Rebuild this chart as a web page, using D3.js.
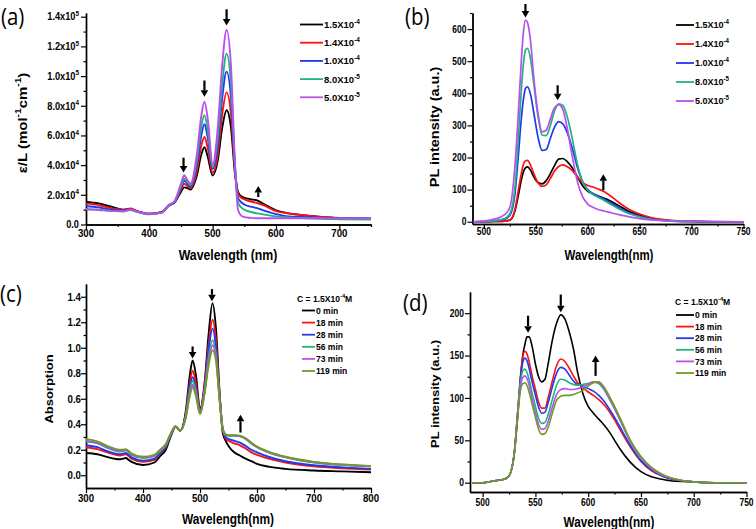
<!DOCTYPE html>
<html><head><meta charset="utf-8">
<script src="https://cdn.jsdelivr.net/npm/d3@7"></script>
<style>body{margin:0;background:#fff}svg{display:block}</style>
</head><body><svg id="chart" width="756" height="529"></svg>
<script>
// ---------------- DATA ----------------
// Panel (a): molar absorptivity, values in units of 1e4 mol^-1 cm^-1
const aWavelength = [300,320,340,360,370,380,400,420,430,440,450,455,460,465,475,482,487,492,500,508,515,522,529,535,540,545,550,560,570,580,600,620,650,690,750];
const aC15e4 = [1.52,1.42,1.2,1.0,1.05,0.9,0.72,0.85,1.25,1.5,2.2,2.5,2.45,2.35,3.3,4.7,5.2,4.6,3.3,4.3,6.5,7.7,6.5,3.5,2.2,1.9,1.8,1.7,1.62,1.4,0.95,0.75,0.6,0.45,0.4];
const aC14e4 = [1.42,1.3,1.1,1.0,1.08,0.92,0.72,0.85,1.25,1.5,2.35,2.75,2.6,2.45,3.6,5.3,5.9,5.2,3.5,4.7,7.4,8.9,7.4,3.8,2.1,1.8,1.7,1.55,1.45,1.3,0.9,0.75,0.6,0.47,null];
const aC10e4 = [1.25,1.15,1.0,0.95,1.0,0.88,0.7,0.82,1.25,1.5,2.5,2.95,2.75,2.55,4.0,6.0,6.75,5.9,3.75,5.3,8.5,10.3,8.5,4.0,1.8,1.5,1.35,1.2,1.1,0.95,0.7,0.55,0.5,0.42,0.4];
const aC80e5 = [1.05,1.0,0.92,0.88,0.98,0.85,0.68,0.8,1.25,1.55,2.6,3.1,2.85,2.65,4.3,6.6,7.37,6.4,3.9,5.8,9.4,11.5,9.4,4.2,1.5,1.15,1.0,0.85,0.75,0.68,0.55,0.48,0.42,0.36,0.33];
const aC50e5 = [1.0,0.98,0.92,0.9,1.0,0.88,0.7,0.82,1.3,1.6,2.75,3.32,3.0,2.75,4.7,7.3,8.27,7.2,4.05,6.5,10.7,13.1,10.6,4.3,1.0,0.6,0.5,0.45,0.42,0.42,0.42,0.42,0.42,0.42,0.42];
const aXTicks = [300,400,500,600,700];
const aYTicks = [0,2,4,6,8,10,12,14];
const aArrows = [[454,4.5,3.5],[487,9.7,8.6],[522,14.5,13.4],[572,1.85,2.6]];

// Panel (b): PL intensity vs concentration
const bWavelength = [490,500,510,520,525,530,533,536,538,540,542,545,548,552,556,560,564,568,572,576,580,585,590,595,600,605,610,615,620,630,640,650,660,670,680,700,720,750];
const bC15e4 = [0,0,1,2,5,35,80,130,155,168,171,160,140,122,118,128,150,175,195,197,188,168,140,112,95,87,80,74,68,50,32,20,11,6,3,1,0,0];
const bC14e4 = [0,0,1,2,5,40,95,150,178,190,191,175,150,122,110,115,135,158,172,177,172,160,140,122,113,108,102,95,85,60,38,24,14,8,4,1,0,0];
const bC10e4 = [0,1,3,8,20,90,200,320,380,415,420,395,340,265,222,225,260,295,312,305,280,230,170,125,100,88,80,72,62,44,28,17,9,5,3,1,0,0];
const bC80e5 = [0,1,3,10,25,110,250,410,490,535,540,505,430,330,270,268,300,345,367,362,330,260,180,125,98,85,76,68,58,40,25,15,8,4,2,1,0,0];
const bC50e5 = [0,2,8,22,45,180,330,500,590,628,620,560,450,340,280,285,320,355,365,350,295,205,125,78,55,45,38,34,30,22,15,10,6,4,3,2,1,0];
const bXTicks = [500,550,600,650,700,750];
const bYTicks = [0,100,200,300,400,500,600];
const bArrows = [[540,678,636],[571,425,378],[615,98,148]];

// Panel (c): absorption vs time
const cWavelength = [300,320,340,360,365,370,375,380,400,420,430,440,450,457,465,475,482,487,493,500,508,515,522,528,535,540,545,550,560,570,580,590,600,620,650,700,750,800];
const cT0 = [0.175,0.165,0.14,0.125,0.13,0.135,0.12,0.105,0.08,0.1,0.15,0.2,0.32,0.38,0.35,0.5,0.78,0.9,0.78,0.52,0.72,1.1,1.35,1.15,0.6,0.33,0.27,0.23,0.18,0.155,0.13,0.11,0.09,0.068,0.05,0.037,0.03,0.023];
const cT18 = [0.22,0.205,0.175,0.155,0.16,0.165,0.15,0.13,0.105,0.12,0.17,0.22,0.33,0.38,0.35,0.48,0.72,0.82,0.72,0.51,0.7,1.02,1.22,1.06,0.6,0.35,0.29,0.27,0.25,0.235,0.21,0.18,0.16,0.13,0.1,0.07,0.055,0.045];
const cT28 = [0.235,0.22,0.185,0.165,0.17,0.175,0.16,0.14,0.115,0.13,0.175,0.225,0.33,0.38,0.35,0.47,0.69,0.77,0.68,0.5,0.68,0.98,1.15,1.0,0.58,0.36,0.3,0.285,0.27,0.255,0.23,0.2,0.18,0.145,0.11,0.078,0.062,0.05];
const cT56 = [0.265,0.25,0.21,0.185,0.19,0.195,0.18,0.16,0.135,0.15,0.19,0.235,0.335,0.38,0.35,0.46,0.66,0.74,0.66,0.49,0.66,0.92,1.06,0.94,0.57,0.36,0.315,0.31,0.31,0.305,0.285,0.25,0.22,0.18,0.14,0.1,0.08,0.07];
const cT73 = [0.27,0.255,0.215,0.19,0.195,0.2,0.185,0.165,0.14,0.155,0.195,0.24,0.338,0.382,0.35,0.455,0.64,0.71,0.64,0.485,0.65,0.89,1.02,0.92,0.565,0.36,0.318,0.312,0.312,0.307,0.287,0.252,0.222,0.182,0.142,0.102,0.082,0.071];
const cT119 = [0.285,0.265,0.225,0.2,0.2,0.205,0.19,0.17,0.145,0.16,0.2,0.245,0.34,0.385,0.35,0.45,0.62,0.69,0.62,0.48,0.64,0.86,0.98,0.9,0.56,0.36,0.32,0.315,0.315,0.31,0.29,0.255,0.225,0.185,0.145,0.105,0.085,0.072];
const cXTicks = [300,400,500,600,700,800];
const cYTicks = [0,0.2,0.4,0.6,0.8,1.0,1.2,1.4];
const cArrows = [[487,1.01,0.915],[521,1.46,1.365],[571,0.335,0.475]];

// Panel (d): PL intensity vs time
const dWavelength = [490,500,510,520,525,530,533,536,538,540,542,544,547,550,553,556,559,562,566,570,574,578,582,586,590,595,600,605,610,615,620,625,630,640,650,660,670,680,700,720,750];
const dT0 = [0,0,2,4,8,35,75,125,150,163,172,172,160,140,125,119,122,140,168,188,198,193,178,158,130,105,90,82,75,68,60,50,40,24,13,7,4,2,1,0,0];
const dT18 = [0,0,2,4,8,35,80,128,148,155,152,143,125,110,95,88,88,100,120,138,146,143,135,126,118,112,107,103,98,92,84,74,63,42,25,14,8,4,1,0,0];
const dT28 = [0,0,2,4,8,35,80,125,142,147,144,135,118,103,89,82,83,94,113,129,136,134,127,120,116,114,111,108,103,96,87,77,66,44,26,15,8,4,1,0,0];
const dT56 = [0,0,2,4,8,35,80,120,132,134,130,122,105,90,76,70,71,80,98,115,122,121,118,116,115,116,117,119,117,110,99,87,74,48,29,17,9,5,1,0,0];
const dT73 = [0,0,2,4,8,35,78,115,124,126,123,115,98,83,69,63,64,72,89,104,110,111,110,110,111,113,116,119,118,111,100,88,75,49,30,17,9,5,1,0,0];
const dT119 = [0,0,2,4,8,35,76,110,117,118,115,107,92,77,63,57,58,65,82,97,102,103,103,104,106,109,114,118,119,113,102,90,77,50,31,18,10,5,1,0,0];
const dXTicks = [500,550,600,650,700,750];
const dYTicks = [0,50,100,150,200];
const dArrows = [[543,197,177],[574,222,201],[607,126,150]];

// Legends
const concLabels = [["1.5X10","-4"],["1.4X10","-4"],["1.0X10","-4"],["8.0X10","-5"],["5.0X10","-5"]];
const timeLabels = ["0 min","18 min","28 min","56 min","73 min","119 min"];
const timeHeader = ["C = 1.5X10","-4","M"];
const concColors = ["#000000","#ff1010","#2038f0","#22b27c","#b850ee"];
const timeColors = ["#000000","#ff1010","#2038f0","#22b27c","#b850ee","#6e9c22"];

// ---------------- DRAWING ----------------
const svg = d3.select("#chart");
const FONT = "'Liberation Sans', Arial, sans-serif";

function txt(g, x, y, parts, o) {
  let tr = `translate(${x},${y})`;
  if (o.rot) tr += " rotate(-90)";
  tr += ` scale(${o.sx || 1},${o.sy || 1})`;
  const t = g.append("text").attr("transform", tr)
    .attr("font-family", o.family || FONT)
    .attr("font-weight", o.weight || "bold")
    .attr("font-size", o.size)
    .attr("text-anchor", o.anchor || "start")
    .attr("fill", "#000");
  let shift = 0;
  parts.forEach(p => {
    const part = typeof p === "string" ? {t: p} : p;
    const target = part.sup ? -o.size * 0.42 : 0;
    const ts = t.append("tspan").text(part.t).attr("dy", target - shift);
    if (part.sup) ts.attr("font-size", o.size * 0.68);
    shift = target;
  });
  return t;
}

function styleAxis(sel) {
  sel.select(".domain").attr("stroke", "#000").attr("stroke-width", 1.4);
  sel.selectAll(".tick line").attr("stroke", "#000").attr("stroke-width", 1.2);
}

function mids(arr) {
  const out = [];
  for (let i = 0; i < arr.length - 1; i++) out.push((arr[i] + arr[i + 1]) / 2);
  return out;
}

function drawPanel(p) {
  const g = svg.append("g");
  const x = d3.scaleLinear().domain(p.xDomain).range([p.left, p.right]);
  const y = d3.scaleLinear().domain(p.yDomain).range([p.bottom, p.top]);

  const xMinor = mids(p.xTicks).concat(p.xExtraMinor || []);
  const yMinor = mids(p.yTicks).concat(p.yExtraMinor || []);
  g.append("g").attr("transform", `translate(0,${p.bottom})`)
    .call(d3.axisBottom(x).tickValues(xMinor).tickSize(2.5).tickSizeOuter(0).tickFormat(""))
    .call(styleAxis);
  g.append("g").attr("transform", `translate(${p.left},0)`)
    .call(d3.axisLeft(y).tickValues(yMinor).tickSize(2.5).tickSizeOuter(0).tickFormat(""))
    .call(styleAxis);
  g.append("g").attr("transform", `translate(0,${p.bottom})`)
    .call(d3.axisBottom(x).tickValues(p.xTicks).tickSize(5).tickSizeOuter(0).tickFormat(""))
    .call(styleAxis);
  g.append("g").attr("transform", `translate(${p.left},0)`)
    .call(d3.axisLeft(y).tickValues(p.yTicks).tickSize(5).tickSizeOuter(0).tickFormat(""))
    .call(styleAxis);

  p.xTicks.forEach(v => txt(g, x(v), p.bottom + p.xLabOff, [String(v)], {size: p.tickSize, sx: p.tickSx, anchor: "middle"}));
  const yts = p.yTickSize || p.tickSize;
  p.yTicks.forEach(v => txt(g, p.left - p.yLabGap, y(v) + yts * 0.36, p.yFmt(v), {size: yts, sx: p.tickSx, anchor: "end"}));

  const line = d3.line().defined(d => d[1] != null).x(d => x(d[0])).y(d => y(d[1])).curve(d3.curveMonotoneX);
  p.series.forEach((s, i) => {
    const pts = p.wl.map((w, k) => [w, s[k]]);
    g.append("path").attr("d", line(pts)).attr("fill", "none")
      .attr("stroke", p.colors[i]).attr("stroke-width", p.lw).attr("stroke-linejoin", "round");
  });

  p.arrows.forEach(a => {
    const ax = x(a[0]), y0 = y(a[1]), y1 = y(a[2]);
    const dir = y1 > y0 ? 1 : -1;
    const hl = 6.5, hw = 3.8;
    g.append("line").attr("x1", ax).attr("x2", ax).attr("y1", y0).attr("y2", y1 - dir * hl)
      .attr("stroke", "#000").attr("stroke-width", 2.2);
    g.append("path").attr("d", `M${ax - hw},${y1 - dir * hl}L${ax + hw},${y1 - dir * hl}L${ax},${y1}Z`).attr("fill", "#000");
  });

  txt(g, p.xTitlePos[0], p.xTitlePos[1], p.xTitle, {size: p.xTitleSize, sx: p.titleSx, anchor: "middle"});
  txt(g, p.yTitlePos[0], p.yTitlePos[1], p.yTitle, {size: p.yTitleSize, sy: p.titleSx, anchor: "middle", rot: true});
  txt(g, p.labelPos[0], p.labelPos[1], [p.label], {size: 24, sx: 0.85, weight: "normal", family: "'Open Sans', 'DejaVu Sans', sans-serif"});

  const L = p.legend;
  if (L.header) txt(g, L.headerPos[0], L.headerPos[1], L.header, {size: L.size, sx: L.sx});
  L.labels.forEach((lab, i) => {
    const ly = L.y0 + i * L.dy;
    g.append("line").attr("x1", L.x0).attr("x2", L.x1).attr("y1", ly).attr("y2", ly)
      .attr("stroke", p.colors[i]).attr("stroke-width", 1.8);
    txt(g, L.x1 + 1, ly + L.size * 0.36, lab, {size: L.size, sx: L.sx});
  });
}

const plain = v => [String(v)];

drawPanel({
  xDomain: [300, 750], yDomain: [0, 14.25], left: 86, right: 371, top: 13, bottom: 224.5,
  xTicks: aXTicks, yTicks: aYTicks, xExtraMinor: [750],
  tickSize: 11, yTickSize: 10.5, tickSx: 0.88, xLabOff: 12.5, yLabGap: 7,
  yFmt: v => v === 0 ? ["0.0"] : [(v >= 10 ? (v / 10).toFixed(1) : v.toFixed(1)) + "x10", {t: v >= 10 ? "5" : "4", sup: true}],
  wl: aWavelength, series: [aC15e4, aC14e4, aC10e4, aC80e5, aC50e5], colors: concColors, lw: 1.9,
  arrows: aArrows,
  xTitle: ["Wavelength (nm)"], xTitlePos: [228, 260], xTitleSize: 14, titleSx: 0.88,
  yTitle: ["ε/L (mol", {t: "-1", sup: true}, "cm", {t: "-1", sup: true}, ")"], yTitlePos: [27, 123], yTitleSize: 15,
  label: "(a)", labelPos: [1, 25],
  legend: {labels: concLabels.map(l => [l[0], {t: l[1], sup: true}]), x0: 300, x1: 323, y0: 24.5, dy: 18.2, size: 9.5, sx: 1}
});

drawPanel({
  xDomain: [489, 750], yDomain: [-7, 650], left: 472.5, right: 743.5, top: 13, bottom: 224,
  xTicks: bXTicks, yTicks: bYTicks, yExtraMinor: [650],
  tickSize: 10, tickSx: 0.85, xLabOff: 10.5, yLabGap: 6,
  yFmt: plain,
  wl: bWavelength, series: [bC15e4, bC14e4, bC10e4, bC80e5, bC50e5], colors: concColors, lw: 1.7,
  arrows: bArrows,
  xTitle: ["Wavelength(nm)"], xTitlePos: [609, 260], xTitleSize: 14, titleSx: 0.82,
  yTitle: ["PL intensity (a.u.)"], yTitlePos: [439, 127], yTitleSize: 14.5,
  label: "(b)", labelPos: [405, 25],
  legend: {labels: concLabels.map(l => [l[0], {t: l[1], sup: true}]), x0: 676, x1: 694, y0: 25, dy: 19, size: 9.5, sx: 0.95}
});

drawPanel({
  xDomain: [300, 800], yDomain: [-0.1, 1.5], left: 86, right: 371, top: 284, bottom: 488,
  xTicks: cXTicks, yTicks: cYTicks,
  tickSize: 11, tickSx: 0.88, xLabOff: 13.5, yLabGap: 5,
  yFmt: v => [v.toFixed(1)],
  wl: cWavelength, series: [cT0, cT18, cT28, cT56, cT73, cT119], colors: timeColors, lw: 1.9,
  arrows: cArrows,
  xTitle: ["Wavelength(nm)"], xTitlePos: [228, 524], xTitleSize: 14, titleSx: 0.85,
  yTitle: ["Absorption"], yTitlePos: [53, 389], yTitleSize: 13,
  label: "(c)", labelPos: [0, 302],
  legend: {header: [timeHeader[0], {t: timeHeader[1], sup: true}, timeHeader[2]], headerPos: [297, 301.5],
    labels: timeLabels.map(l => [l]), x0: 302, x1: 315, y0: 310.5, dy: 12.1, size: 9, sx: 0.95}
});

drawPanel({
  xDomain: [488, 750], yDomain: [-11, 225], left: 470, right: 746.5, top: 292, bottom: 492,
  xTicks: dXTicks, yTicks: dYTicks,
  tickSize: 10, tickSx: 0.85, xLabOff: 14, yLabGap: 6,
  yFmt: plain,
  wl: dWavelength, series: [dT0, dT18, dT28, dT56, dT73, dT119], colors: timeColors, lw: 1.6,
  arrows: dArrows,
  xTitle: ["Wavelength(nm)"], xTitlePos: [609, 527], xTitleSize: 14, titleSx: 0.84,
  yTitle: ["PL intensity (a.u.)"], yTitlePos: [439, 394], yTitleSize: 13,
  label: "(d)", labelPos: [403, 311],
  legend: {header: [timeHeader[0], {t: timeHeader[1], sup: true}, timeHeader[2]], headerPos: [675, 305],
    labels: timeLabels.map(l => [l]), x0: 676, x1: 694, y0: 315, dy: 11.6, size: 9, sx: 0.95}
});
</script>
</body></html>
